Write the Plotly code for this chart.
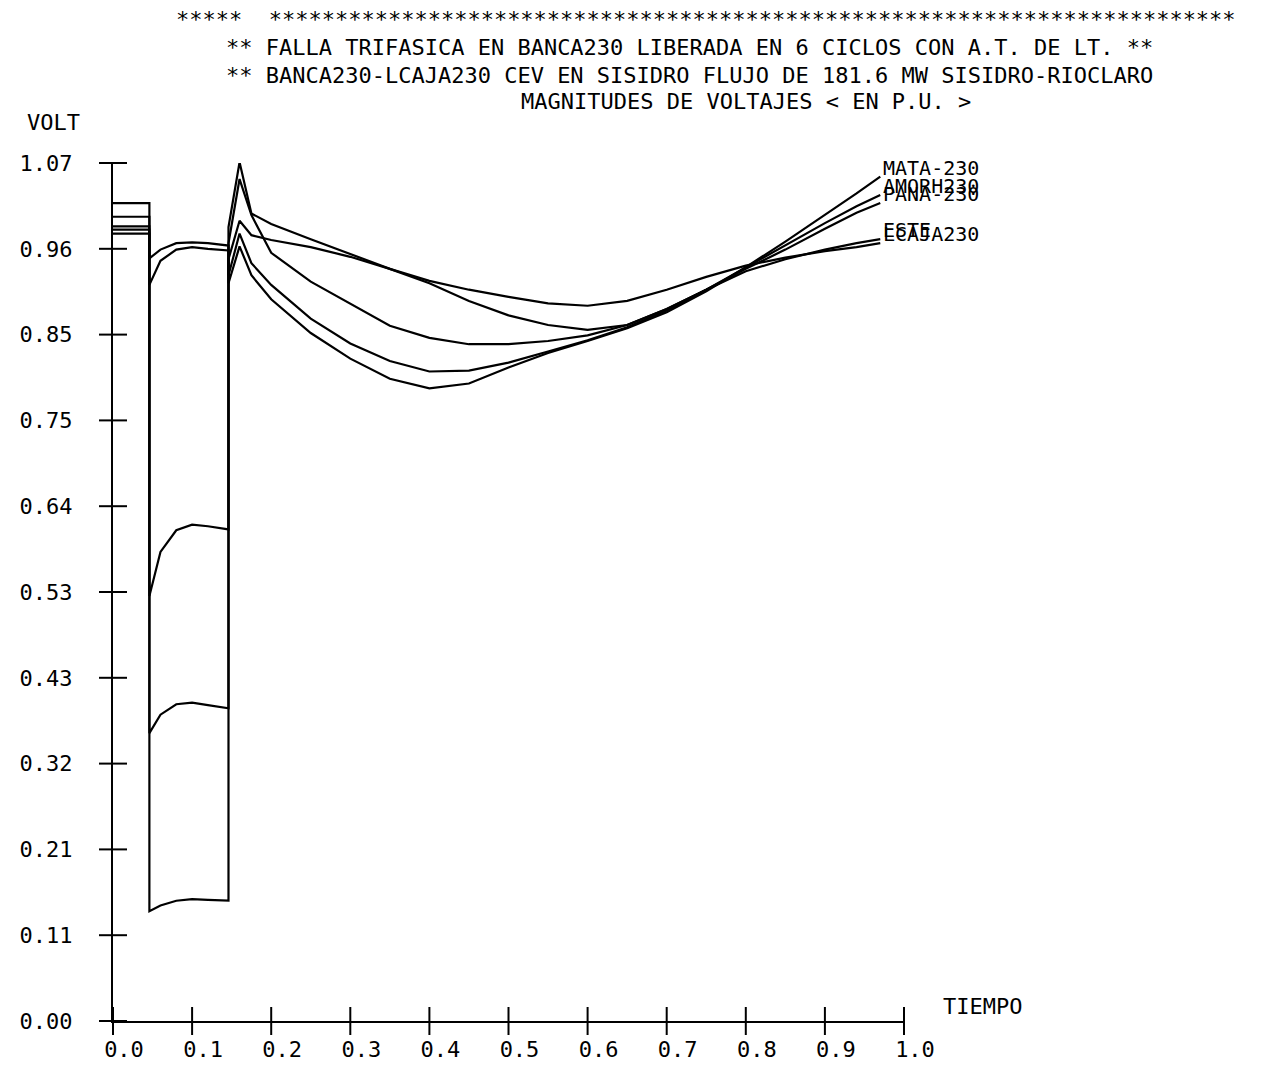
import plotly.graph_objects as go

FONT = "DejaVu Sans Mono"

# ---------------- data ----------------
# time samples (s): prefault, fault (6 cycles), post-clearing
time_s = [0.0, 0.046,
          0.046, 0.06, 0.08, 0.10, 0.12, 0.146,
          0.146, 0.16, 0.175, 0.20, 0.25, 0.30, 0.35, 0.40, 0.45, 0.50,
          0.55, 0.60, 0.65, 0.70, 0.75, 0.80, 0.85, 0.90, 0.94, 0.97]

bus_names = ["MATA-230", "AMORH230", "PANA-230", "ESTE", "LCAJA230"]

mata_230 = [1.020, 1.020,
            0.951, 0.962, 0.970, 0.971, 0.970, 0.967,
            0.920, 0.966, 0.930, 0.900, 0.858, 0.826, 0.801, 0.789, 0.795, 0.815,
            0.833, 0.848, 0.864, 0.884, 0.910, 0.940, 0.972, 1.005, 1.032, 1.053]

amorh_230 = [1.003, 1.003,
             0.918, 0.948, 0.962, 0.965, 0.963, 0.961,
             0.930, 0.982, 0.945, 0.918, 0.876, 0.845, 0.823, 0.810, 0.811, 0.821,
             0.835, 0.849, 0.865, 0.886, 0.912, 0.940, 0.968, 0.995, 1.016, 1.030]

pana_230 = [0.991, 0.991,
            0.530, 0.585, 0.612, 0.619, 0.617, 0.613,
            0.970, 1.050, 1.005, 0.958, 0.922, 0.894, 0.867, 0.852, 0.844, 0.844,
            0.848, 0.855, 0.868, 0.888, 0.912, 0.938, 0.962, 0.988, 1.008, 1.020]

este = [0.987, 0.987,
        0.359, 0.382, 0.395, 0.397, 0.394, 0.390,
        0.950, 0.998, 0.980, 0.974, 0.965, 0.953, 0.938, 0.920, 0.898, 0.880,
        0.868, 0.862, 0.868, 0.888, 0.912, 0.935, 0.950, 0.962, 0.970, 0.975]

lcaja_230 = [0.982, 0.982,
             0.137, 0.144, 0.150, 0.152, 0.151, 0.150,
             0.990, 1.071, 1.007, 0.994, 0.975, 0.956, 0.938, 0.923, 0.912, 0.903,
             0.895, 0.892, 0.898, 0.912, 0.928, 0.942, 0.952, 0.960, 0.965, 0.970]

y_tickvals = [0.0, 0.107, 0.214, 0.321, 0.428, 0.535, 0.642, 0.749, 0.856, 0.963, 1.07]
y_ticktext = ["0.00", "0.11", "0.21", "0.32", "0.43", "0.53", "0.64", "0.75", "0.85", "0.96", "1.07"]
x_tickvals = [0.0, 0.1, 0.2, 0.3, 0.4, 0.5, 0.6, 0.7, 0.8, 0.9, 1.0]
x_ticktext = ["0.0", "0.1", "0.2", "0.3", "0.4", "0.5", "0.6", "0.7", "0.8", "0.9", "1.0"]

title_lines = [
    "*****  " + "*" * 73,
    "** FALLA TRIFASICA EN BANCA230 LIBERADA EN 6 CICLOS CON A.T. DE LT. **",
    "** BANCA230-LCAJA230 CEV EN SISIDRO FLUJO DE 181.6 MW SISIDRO-RIOCLARO",
    "MAGNITUDES DE VOLTAJES < EN P.U. >",
]

# ---------------- figure ----------------
W, H = 1277, 1066
L, R, T, B = 102, 381, 155, 43
PW, PH = W - L - R, H - T - B


def px(x):
    return (x - L) / PW


def py(y):
    return (H - B - y) / PH


fig = go.Figure()
all_series = [mata_230, amorh_230, pana_230, este, lcaja_230]
for name, vals in zip(bus_names, all_series):
    fig.add_trace(go.Scatter(x=time_s, y=vals, mode="lines", name=name,
                             line=dict(color="black", width=2.2),
                             showlegend=False, hoverinfo="skip"))

# "+" tick marks crossing the axes
fig.add_trace(go.Scatter(x=[0.0] * len(y_tickvals), y=y_tickvals, mode="markers",
                         marker=dict(symbol="line-ew", size=20, color="black",
                                     line=dict(width=2, color="black")),
                         cliponaxis=False, showlegend=False, hoverinfo="skip"))
fig.add_trace(go.Scatter(x=x_tickvals, y=[0.0] * len(x_tickvals), mode="markers",
                         marker=dict(symbol="line-ns", size=20, color="black",
                                     line=dict(width=2, color="black")),
                         cliponaxis=False, showlegend=False, hoverinfo="skip"))

annotations = []
# title block
annotations.append(dict(text=title_lines[0], x=px(163), y=py(10), xref="paper", yref="paper",
                        xanchor="left", yanchor="middle", showarrow=False))
annotations.append(dict(text=title_lines[1], x=px(213), y=py(38), xref="paper", yref="paper",
                        xanchor="left", yanchor="middle", showarrow=False))
annotations.append(dict(text=title_lines[2], x=px(213), y=py(66), xref="paper", yref="paper",
                        xanchor="left", yanchor="middle", showarrow=False))
annotations.append(dict(text=title_lines[3], x=px(737), y=py(93), xref="paper", yref="paper",
                        xanchor="center", yanchor="middle", showarrow=False))
annotations.append(dict(text="VOLT", x=px(14), y=py(114), xref="paper", yref="paper",
                        xanchor="left", yanchor="middle", showarrow=False))
annotations.append(dict(text="TIEMPO", x=px(933), y=py(1008), xref="paper", yref="paper",
                        xanchor="left", yanchor="middle", showarrow=False))
# curve end labels
for name, vals in zip(bus_names, all_series):
    annotations.append(dict(text=name, x=time_s[-1], y=vals[-1], xref="x", yref="y",
                            xanchor="left", yanchor="bottom", yshift=-5, xshift=1,
                            font=dict(family=FONT, size=20, color="black"),
                            showarrow=False))

fig.update_layout(
    width=W, height=H, autosize=False,
    margin=dict(l=L, r=R, t=T, b=B),
    paper_bgcolor="white", plot_bgcolor="white",
    font=dict(family=FONT, size=22, color="black"),
    annotations=annotations,
    xaxis=dict(range=[0, 1], showline=True, linecolor="black", linewidth=2,
               showgrid=False, zeroline=False, ticks="",
               tickvals=x_tickvals, ticktext=x_ticktext,
               tickfont=dict(family=FONT, size=22, color="black"),
               ticklabelstandoff=8, ticklabelshift=11),
    yaxis=dict(range=[0, 1.07], showline=True, linecolor="black", linewidth=2,
               showgrid=False, zeroline=False, ticks="",
               tickvals=y_tickvals, ticktext=y_ticktext,
               tickfont=dict(family=FONT, size=22, color="black"),
               ticklabelstandoff=34),
)

fig.write_html("out.html")
